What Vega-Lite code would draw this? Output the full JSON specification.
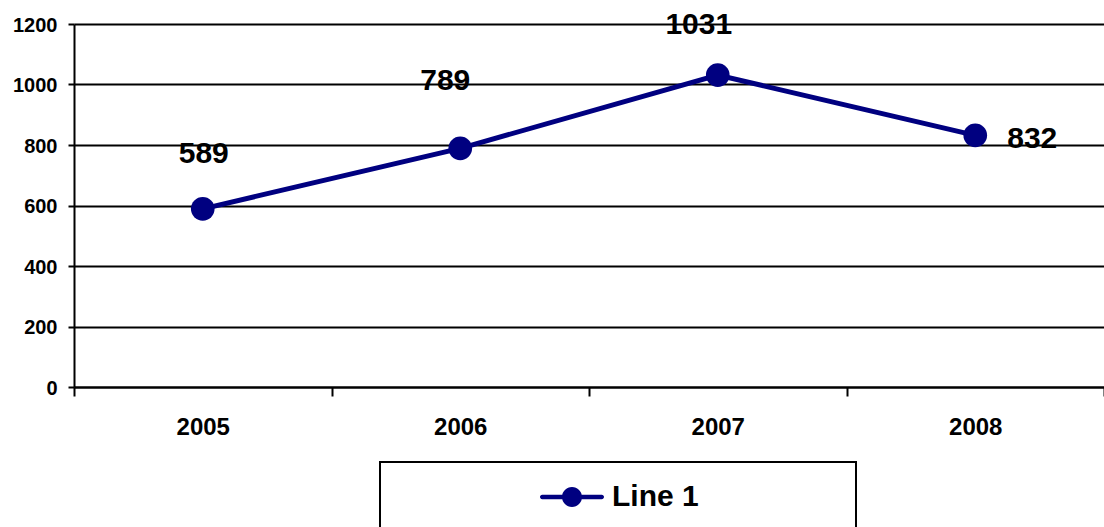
{
  "$schema": "https://vega.github.io/schema/vega-lite/v6.json",
  "width": 1030,
  "height": 363,
  "autosize": {"type": "none"},
  "padding": {"left": 74, "top": 24, "right": 0, "bottom": 140},
  "background": "white",
  "config": {"view": {"stroke": null}, "font": "Liberation Sans", "legend": {"strokeWidth": 2}},
  "data": {
    "values": [
      {"year": "2005", "value": 589},
      {"year": "2006", "value": 789},
      {"year": "2007", "value": 1031},
      {"year": "2008", "value": 832}
    ]
  },
  "encoding": {
    "x": {
      "field": "year",
      "type": "ordinal",
      "bandPosition": 0.5,
      "scale": {"type": "band", "paddingInner": 0, "paddingOuter": 0},
      "axis": {
        "title": null,
        "labelAngle": 0,
        "grid": false,
        "domainColor": "black",
        "domainWidth": 2,
        "tickColor": "black",
        "tickWidth": 2,
        "tickSize": 9,
        "tickBand": "extent",
        "labelFontSize": 24,
        "labelFontWeight": "bold",
        "labelColor": "black",
        "labelPadding": 19
      }
    },
    "y": {
      "field": "value",
      "type": "quantitative",
      "scale": {"domain": [0, 1200]},
      "axis": {
        "title": null,
        "format": "d",
        "values": [0, 200, 400, 600, 800, 1000, 1200],
        "grid": true,
        "gridColor": "black",
        "gridWidth": 2,
        "gridOpacity": 1,
        "domainColor": "black",
        "domainWidth": 2,
        "tickColor": "black",
        "tickWidth": 2,
        "tickSize": 6,
        "labelFontSize": 20,
        "labelFontWeight": "bold",
        "labelColor": "black",
        "labelPadding": 11,
        "labelOffset": 1
      }
    }
  },
  "layer": [
    {"mark": {"type": "line", "color": "#000080", "strokeWidth": 5}},
    {
      "mark": {"type": "point", "filled": true, "size": 560, "opacity": 1, "shape": "circle"},
      "encoding": {
        "color": {
          "datum": "Line 1",
          "type": "nominal",
          "scale": {"range": ["#000080"]},
          "legend": {
            "orient": "none",
            "legendX": 306,
            "legendY": 438,
            "title": null,
            "padding": 3,
            "strokeColor": "black",
            "fillColor": "white",
            "symbolType": "M-0.93,-0.07L0.93,-0.07A0.07,0.07 0 0,1 0.93,0.07L-0.93,0.07A0.07,0.07 0 0,1 -0.93,-0.07Z M-0.3125,0A0.3125,0.3125 0 1,1 0.3125,0A0.3125,0.3125 0 1,1 -0.3125,0Z M8.78,0L8.78,0 M0,1.2L0,1.2",
            "symbolSize": 4096,
            "symbolOffset": 157,
            "symbolFillColor": "#000080",
            "symbolStrokeWidth": 0,
            "symbolOpacity": 1,
            "labelFontSize": 30,
            "labelFontWeight": "bold",
            "labelColor": "black",
            "labelOffset": 8,
            "labelLimit": 500
          }
        }
      }
    },
    {
      "transform": [{"filter": "datum.year == '2005'"}],
      "mark": {"type": "text", "fontSize": 30, "fontWeight": "bold", "color": "black", "align": "center", "baseline": "middle", "dx": 1, "dy": -55},
      "encoding": {"text": {"field": "value", "type": "quantitative", "format": "d"}}
    },
    {
      "transform": [{"filter": "datum.year == '2006'"}],
      "mark": {"type": "text", "fontSize": 30, "fontWeight": "bold", "color": "black", "align": "center", "baseline": "middle", "dx": -15, "dy": -67},
      "encoding": {"text": {"field": "value", "type": "quantitative", "format": "d"}}
    },
    {
      "transform": [{"filter": "datum.year == '2007'"}],
      "mark": {"type": "text", "fontSize": 30, "fontWeight": "bold", "color": "black", "align": "center", "baseline": "middle", "dx": -19, "dy": -50},
      "encoding": {"text": {"field": "value", "type": "quantitative", "format": "d"}}
    },
    {
      "transform": [{"filter": "datum.year == '2008'"}],
      "mark": {"type": "text", "fontSize": 30, "fontWeight": "bold", "color": "black", "align": "center", "baseline": "middle", "dx": 57, "dy": 4},
      "encoding": {"text": {"field": "value", "type": "quantitative", "format": "d"}}
    }
  ]
}
